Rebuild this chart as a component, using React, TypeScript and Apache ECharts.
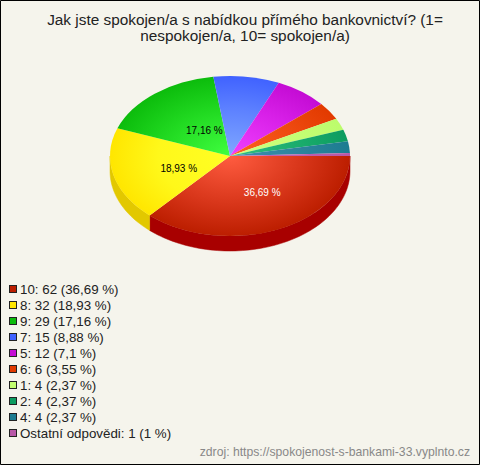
import React, { useEffect, useRef } from "react";
import * as echarts from "echarts";

const titleText = "Jak jste spokojen/a s nabídkou přímého bankovnictví? (1=\nnespokojen/a, 10= spokojen/a)";
const footerText = "zdroj: https://spokojenost-s-bankami-33.vyplnto.cz";
const categories = ["10", "8", "9", "7", "5", "6", "1", "2", "4", "Ostatní odpovědi"];
const counts = [62, 32, 29, 15, 12, 6, 4, 4, 4, 1];
const percentLabels = ["36,69 %", "18,93 %", "17,16 %", "8,88 %", "7,1 %", "3,55 %", "2,37 %", "2,37 %", "2,37 %", "1 %"];

const innerColors = ["#ff5c40", "#ffff24", "#40ff40", "#80a8ff", "#f040ff", "#ff6020", "#d0ff80", "#30c080", "#4090b0", "#c868b8"];
const midColors = ["#d8361a", "#fff81a", "#20d820", "#5c80ff", "#d820e8", "#ee4a10", "#c4fe74", "#1aac6c", "#2c849c", "#be5eae"];
const outerColors = ["#bc1e00", "#ffe600", "#0cbc0c", "#4062ff", "#c40cd4", "#e23a00", "#bcfc6c", "#0c9c60", "#1c7c90", "#b858a8"];
const sideColors = ["#a80000", "#e2c800", "#0a9a0a", "#3050d0", "#a000b0", "#b83000", "#a0d050", "#088050", "#106070", "#985090"];
const swatchColors = ["#bc1e00", "#ffe600", "#0cbc0c", "#4062ff", "#c40cd4", "#e23a00", "#c4ff70", "#0c9c60", "#1c7c90", "#b858a8"];
const labelColors = ["#fff", "#000", "#000"];
// radial placement of the three printed slice labels, as fractions of the ellipse radii
const labelFactors = [[0.66, 0.5], [0.44, 0.67], [0.34, 0.41]];

const CX = 230;
const CY = 156;
const RX = 120;
const RY = 80;
const DEPTH = 15;
const total = counts.reduce((a, b) => a + b, 0);

function swatchIcon(color: string) {
  const svg = `<svg xmlns="http://www.w3.org/2000/svg" width="8" height="8" viewBox="0 0 8 8"><rect x="0.5" y="0.5" width="7" height="7" fill="${color}" stroke="#222" stroke-width="1"/></svg>`;
  return "image://data:image/svg+xml;charset=utf-8," + encodeURIComponent(svg);
}

function makeRender(index: number) {
  const before = counts.slice(0, index).reduce((a, b) => a + b, 0);
  return (_params: any, api: any) => {
    const value = api.value(0);
    const start = (before / total) * Math.PI * 2;
    const end = ((before + value) / total) * Math.PI * 2;
    const children: any[] = [];

    const sideEnd = Math.min(end, Math.PI);
    if (start < Math.PI) {
      const top: number[][] = [];
      const bottom: number[][] = [];
      const steps = Math.max(2, Math.ceil((sideEnd - start) / 0.03));
      for (let s = 0; s <= steps; s++) {
        const a = start + ((sideEnd - start) * s) / steps;
        const x = CX + RX * Math.cos(a);
        const y = CY + RY * Math.sin(a);
        top.push([x, y]);
        bottom.unshift([x, y + DEPTH]);
      }
      children.push({
        type: "polygon",
        shape: { points: top.concat(bottom) },
        style: { fill: sideColors[index], stroke: sideColors[index], lineWidth: 0.5 },
      });
    }

    children.push({
      type: "group",
      x: CX,
      y: CY,
      scaleY: RY / RX,
      children: [
        {
          type: "sector",
          shape: { cx: 0, cy: 0, r0: 0, r: RX, startAngle: start, endAngle: end, clockwise: true },
          style: {
            fill: new echarts.graphic.RadialGradient(
              0,
              0,
              RX,
              [
                { offset: 0, color: innerColors[index] },
                { offset: 0.6, color: midColors[index] },
                { offset: 1, color: outerColors[index] },
              ],
              true
            ),
          },
        },
      ],
    });

    if (index < labelFactors.length) {
      const mid = (start + end) / 2;
      children.push({
        type: "text",
        x: CX + RX * labelFactors[index][0] * Math.cos(mid),
        y: CY + RY * labelFactors[index][1] * Math.sin(mid),
        style: {
          text: percentLabels[index],
          fill: labelColors[index],
          font: '10px "Liberation Sans", Arial, sans-serif',
          align: "center",
          verticalAlign: "middle",
        },
      });
    }
    return { type: "group", children };
  };
}

export default function App() {
  const ref = useRef<HTMLDivElement>(null);
  useEffect(() => {
    document.body.style.margin = "0";
    const chart = echarts.init(ref.current!, null, { renderer: "svg" });
    const font = '"Liberation Sans", Arial, sans-serif';
    chart.setOption({
      animation: false,
      backgroundColor: "#f5f4ec",
      title: [
        {
          text: titleText,
          left: 240,
          top: 6,
          textAlign: "center",
          textStyle: { fontFamily: font, fontSize: 15.36, fontWeight: "normal", color: "#222", lineHeight: 16 },
        },
        {
          text: footerText,
          right: 10,
          top: 446,
          padding: 0,
          textStyle: { fontFamily: font, fontSize: 12.2, fontWeight: "normal", color: "#888" },
        },
      ],
      legend: {
        orient: "vertical",
        left: 9,
        top: 281,
        padding: 0,
        itemGap: 0,
        itemWidth: 8,
        itemHeight: 8,
        selectedMode: false,
        data: categories.map((name, i) => ({
          name,
          icon: swatchIcon(swatchColors[i]),
        })),
        formatter: (name: string) => {
          const i = categories.indexOf(name);
          return `${name}: ${counts[i]} (${percentLabels[i]})`;
        },
        textStyle: { fontFamily: font, fontSize: 13.33, color: "#222", lineHeight: 16, height: 16, padding: [0, 0, 0, -2] },
      },
      series: categories.map((name, i) => ({
        type: "custom",
        name,
        coordinateSystem: "none",
        silent: true,
        itemStyle: { color: swatchColors[i] },
        data: [[counts[i]]],
        renderItem: makeRender(i),
      })),
      graphic: [
        {
          type: "rect",
          shape: { x: 0.5, y: 0.5, width: 479, height: 464 },
          style: { fill: "none", stroke: "#000", lineWidth: 1 },
          silent: true,
        },
      ],
    });
    return () => chart.dispose();
  }, []);
  return <div ref={ref} style={{ width: 480, height: 465 }} />;
}
